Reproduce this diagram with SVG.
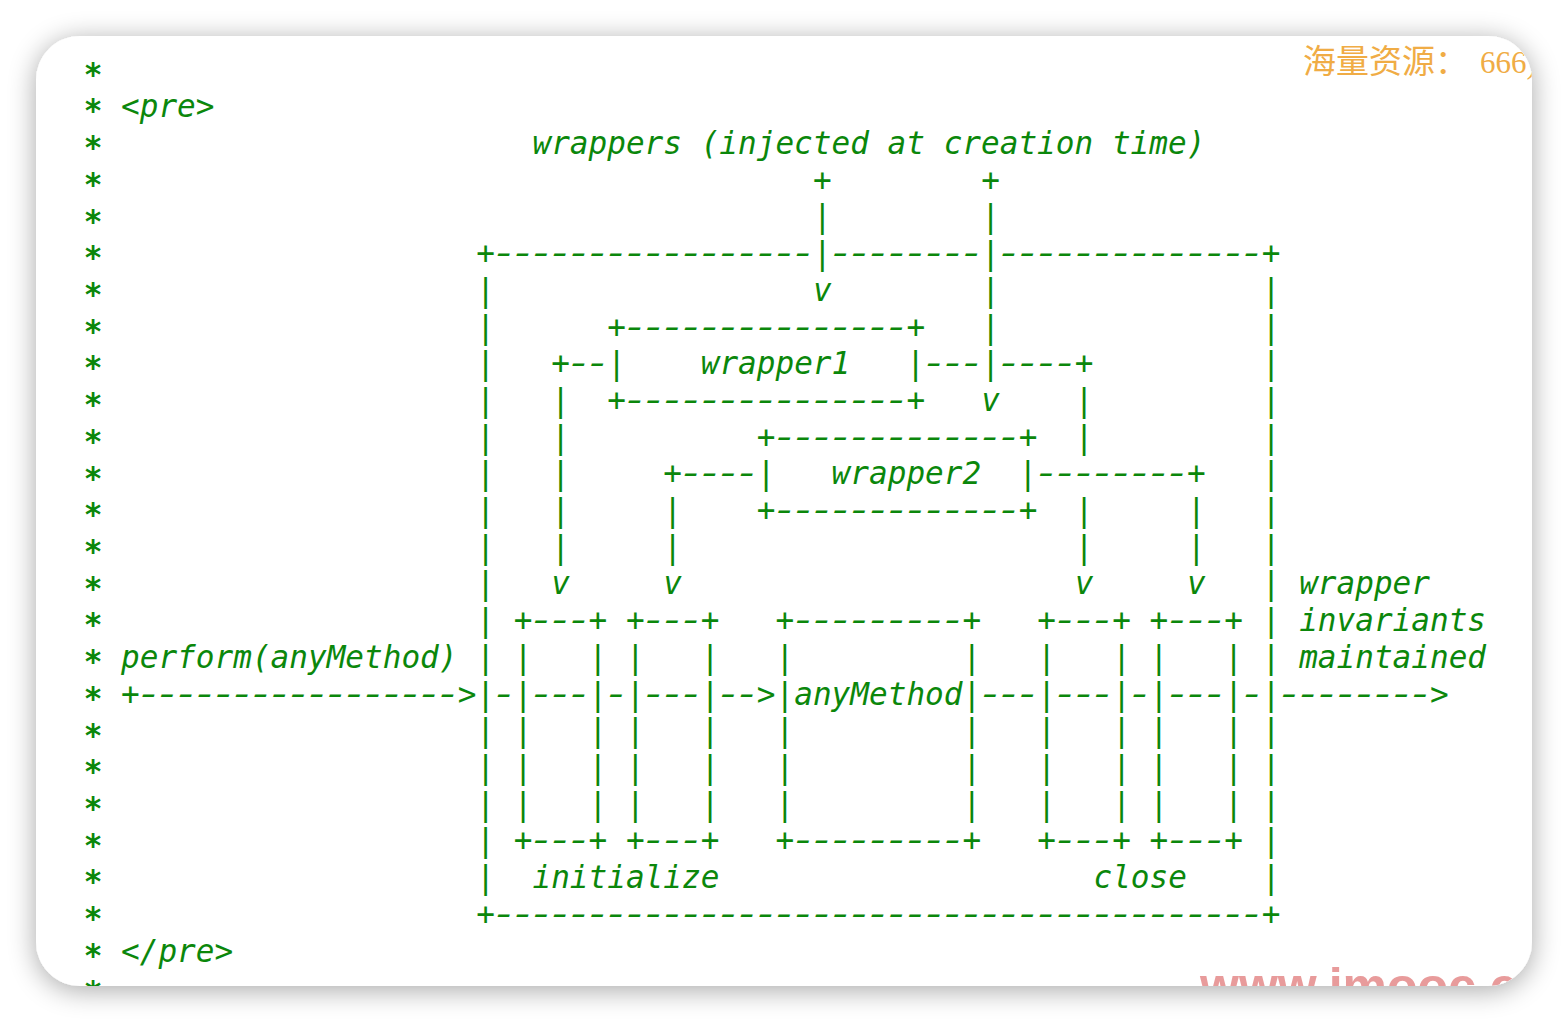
<svg xmlns="http://www.w3.org/2000/svg" width="1568" height="1022" viewBox="0 0 1568 1022" xml:space="preserve">
<defs>
<style>
.t{font-family:"DejaVu Sans Mono","Liberation Mono",monospace;font-size:31.06px;font-style:italic;fill:#0b870b;white-space:pre}
.d{letter-spacing:-5.7px}
.ast{font-style:normal;font-weight:bold;text-anchor:middle}
.wm1{font-family:"Liberation Serif","Noto Sans CJK SC",serif;font-size:33px;fill:#f0ac45}
.wm2{font-family:"Liberation Sans",Arial,sans-serif;font-weight:bold;font-size:50px;fill:#e48a8a;fill-opacity:0.85}
</style>
<filter id="sh" x="-10%" y="-10%" width="120%" height="120%">
<feGaussianBlur in="SourceAlpha" stdDeviation="14"/>
<feOffset dy="4"/>
<feComponentTransfer><feFuncA type="linear" slope="0.35"/></feComponentTransfer>
<feMerge><feMergeNode/><feMergeNode in="SourceGraphic"/></feMerge>
</filter>
<clipPath id="card"><rect x="36" y="36" width="1496" height="950" rx="44"/></clipPath>
</defs>
<rect width="1568" height="1022" fill="#ffffff"/>
<rect x="36" y="36" width="1496" height="950" rx="44" fill="#ffffff" filter="url(#sh)"/>
<g clip-path="url(#card)">
<g id="watermark">
<text class="wm1" x="1303" y="73">海量资源：<tspan x="1480" font-size="31">666)</tspan></text>
<text class="wm2" x="1200" y="1003">www.imooc.c</text>
</g>
<g id="gutter">
<text class="t ast"><tspan x="93" y="84.7">*</tspan><tspan x="93" y="121.4">*</tspan><tspan x="93" y="158.1">*</tspan><tspan x="93" y="194.8">*</tspan><tspan x="93" y="231.5">*</tspan><tspan x="93" y="268.3">*</tspan><tspan x="93" y="305.0">*</tspan><tspan x="93" y="341.7">*</tspan><tspan x="93" y="378.4">*</tspan><tspan x="93" y="415.1">*</tspan><tspan x="93" y="451.8">*</tspan><tspan x="93" y="488.5">*</tspan><tspan x="93" y="525.2">*</tspan><tspan x="93" y="561.9">*</tspan><tspan x="93" y="598.6">*</tspan><tspan x="93" y="635.4">*</tspan><tspan x="93" y="672.1">*</tspan><tspan x="93" y="708.8">*</tspan><tspan x="93" y="745.5">*</tspan><tspan x="93" y="782.2">*</tspan><tspan x="93" y="818.9">*</tspan><tspan x="93" y="855.6">*</tspan><tspan x="93" y="892.3">*</tspan><tspan x="93" y="929.0">*</tspan><tspan x="93" y="965.7">*</tspan><tspan x="93" y="1002.5">*</tspan></text>
<text class="t" x="121.05" y="117.2">&lt;pre&gt;</text>
<text class="t" x="121.05" y="961.5">&lt;/pre&gt;</text>
</g>
<g id="title">
<text class="t" x="532.45" y="153.9">wrappers (injected at creation time)</text>
</g>
<g id="transaction">
<text class="t"><tspan x="476.35" y="264.1">+</tspan><tspan x="1261.75" y="264.1">+</tspan><tspan x="476.35" y="924.8">+</tspan><tspan x="1261.75" y="924.8">+</tspan></text>
<text class="t d" transform="translate(490.95,264.1) scale(1.4385,1)">-----------------</text>
<text class="t d" transform="translate(827.55,264.1) scale(1.4385,1)">--------</text>
<text class="t d" transform="translate(995.85,264.1) scale(1.4385,1)">--------------</text>
<text class="t"><tspan x="476.35" y="300.8">|</tspan><tspan x="476.35" y="337.5">|</tspan><tspan x="476.35" y="374.2">|</tspan><tspan x="476.35" y="410.9">|</tspan><tspan x="476.35" y="447.6">|</tspan><tspan x="476.35" y="484.3">|</tspan><tspan x="476.35" y="521.0">|</tspan><tspan x="476.35" y="557.7">|</tspan><tspan x="476.35" y="594.4">|</tspan><tspan x="476.35" y="631.2">|</tspan><tspan x="476.35" y="667.9">|</tspan><tspan x="476.35" y="704.6">|</tspan><tspan x="476.35" y="741.3">|</tspan><tspan x="476.35" y="778.0">|</tspan><tspan x="476.35" y="814.7">|</tspan><tspan x="476.35" y="851.4">|</tspan><tspan x="476.35" y="888.1">|</tspan></text>
<text class="t"><tspan x="1261.75" y="300.8">|</tspan><tspan x="1261.75" y="337.5">|</tspan><tspan x="1261.75" y="374.2">|</tspan><tspan x="1261.75" y="410.9">|</tspan><tspan x="1261.75" y="447.6">|</tspan><tspan x="1261.75" y="484.3">|</tspan><tspan x="1261.75" y="521.0">|</tspan><tspan x="1261.75" y="557.7">|</tspan><tspan x="1261.75" y="594.4">|</tspan><tspan x="1261.75" y="631.2">|</tspan><tspan x="1261.75" y="667.9">|</tspan><tspan x="1261.75" y="704.6">|</tspan><tspan x="1261.75" y="741.3">|</tspan><tspan x="1261.75" y="778.0">|</tspan><tspan x="1261.75" y="814.7">|</tspan><tspan x="1261.75" y="851.4">|</tspan><tspan x="1261.75" y="888.1">|</tspan></text>
<text class="t d" transform="translate(490.95,924.8) scale(1.4385,1)">-----------------------------------------</text>
</g>
<g id="wrapper1">
<text class="t"><tspan x="607.25" y="337.5">+</tspan><tspan x="906.45" y="337.5">+</tspan><tspan x="607.25" y="410.9">+</tspan><tspan x="906.45" y="410.9">+</tspan></text>
<text class="t d" transform="translate(621.85,337.5) scale(1.4385,1)">---------------</text>
<text class="t" x="607.25" y="374.2">|    wrapper1   |</text>
<text class="t d" transform="translate(621.85,410.9) scale(1.4385,1)">---------------</text>
</g>
<g id="wrapper2">
<text class="t"><tspan x="756.85" y="447.6">+</tspan><tspan x="1018.65" y="447.6">+</tspan><tspan x="756.85" y="521.0">+</tspan><tspan x="1018.65" y="521.0">+</tspan></text>
<text class="t d" transform="translate(771.45,447.6) scale(1.4385,1)">-------------</text>
<text class="t" x="756.85" y="484.3">|   wrapper2  |</text>
<text class="t d" transform="translate(771.45,521.0) scale(1.4385,1)">-------------</text>
</g>
<g id="init1">
<text class="t"><tspan x="513.75" y="631.2">+</tspan><tspan x="588.55" y="631.2">+</tspan><tspan x="513.75" y="851.4">+</tspan><tspan x="588.55" y="851.4">+</tspan></text>
<text class="t d" transform="translate(528.35,631.2) scale(1.4385,1)">---</text>
<text class="t d" transform="translate(528.35,851.4) scale(1.4385,1)">---</text>
<text class="t"><tspan x="513.75" y="667.9">|</tspan><tspan x="513.75" y="704.6">|</tspan><tspan x="513.75" y="741.3">|</tspan><tspan x="513.75" y="778.0">|</tspan><tspan x="513.75" y="814.7">|</tspan><tspan x="588.55" y="667.9">|</tspan><tspan x="588.55" y="704.6">|</tspan><tspan x="588.55" y="741.3">|</tspan><tspan x="588.55" y="778.0">|</tspan><tspan x="588.55" y="814.7">|</tspan></text>
</g>
<g id="init2">
<text class="t"><tspan x="625.95" y="631.2">+</tspan><tspan x="700.75" y="631.2">+</tspan><tspan x="625.95" y="851.4">+</tspan><tspan x="700.75" y="851.4">+</tspan></text>
<text class="t d" transform="translate(640.55,631.2) scale(1.4385,1)">---</text>
<text class="t d" transform="translate(640.55,851.4) scale(1.4385,1)">---</text>
<text class="t"><tspan x="625.95" y="667.9">|</tspan><tspan x="625.95" y="704.6">|</tspan><tspan x="625.95" y="741.3">|</tspan><tspan x="625.95" y="778.0">|</tspan><tspan x="625.95" y="814.7">|</tspan><tspan x="700.75" y="667.9">|</tspan><tspan x="700.75" y="704.6">|</tspan><tspan x="700.75" y="741.3">|</tspan><tspan x="700.75" y="778.0">|</tspan><tspan x="700.75" y="814.7">|</tspan></text>
</g>
<g id="anyMethod">
<text class="t"><tspan x="775.55" y="631.2">+</tspan><tspan x="962.55" y="631.2">+</tspan><tspan x="775.55" y="851.4">+</tspan><tspan x="962.55" y="851.4">+</tspan></text>
<text class="t d" transform="translate(790.15,631.2) scale(1.4385,1)">---------</text>
<text class="t d" transform="translate(790.15,851.4) scale(1.4385,1)">---------</text>
<text class="t"><tspan x="775.55" y="667.9">|</tspan><tspan x="775.55" y="741.3">|</tspan><tspan x="775.55" y="778.0">|</tspan><tspan x="775.55" y="814.7">|</tspan><tspan x="962.55" y="667.9">|</tspan><tspan x="962.55" y="741.3">|</tspan><tspan x="962.55" y="778.0">|</tspan><tspan x="962.55" y="814.7">|</tspan></text>
<text class="t" x="775.55" y="704.6">|anyMethod|</text>
</g>
<g id="close1">
<text class="t"><tspan x="1037.35" y="631.2">+</tspan><tspan x="1112.15" y="631.2">+</tspan><tspan x="1037.35" y="851.4">+</tspan><tspan x="1112.15" y="851.4">+</tspan></text>
<text class="t d" transform="translate(1051.95,631.2) scale(1.4385,1)">---</text>
<text class="t d" transform="translate(1051.95,851.4) scale(1.4385,1)">---</text>
<text class="t"><tspan x="1037.35" y="667.9">|</tspan><tspan x="1037.35" y="704.6">|</tspan><tspan x="1037.35" y="741.3">|</tspan><tspan x="1037.35" y="778.0">|</tspan><tspan x="1037.35" y="814.7">|</tspan><tspan x="1112.15" y="667.9">|</tspan><tspan x="1112.15" y="704.6">|</tspan><tspan x="1112.15" y="741.3">|</tspan><tspan x="1112.15" y="778.0">|</tspan><tspan x="1112.15" y="814.7">|</tspan></text>
</g>
<g id="close2">
<text class="t"><tspan x="1149.55" y="631.2">+</tspan><tspan x="1224.35" y="631.2">+</tspan><tspan x="1149.55" y="851.4">+</tspan><tspan x="1224.35" y="851.4">+</tspan></text>
<text class="t d" transform="translate(1164.15,631.2) scale(1.4385,1)">---</text>
<text class="t d" transform="translate(1164.15,851.4) scale(1.4385,1)">---</text>
<text class="t"><tspan x="1149.55" y="667.9">|</tspan><tspan x="1149.55" y="704.6">|</tspan><tspan x="1149.55" y="741.3">|</tspan><tspan x="1149.55" y="778.0">|</tspan><tspan x="1149.55" y="814.7">|</tspan><tspan x="1224.35" y="667.9">|</tspan><tspan x="1224.35" y="704.6">|</tspan><tspan x="1224.35" y="741.3">|</tspan><tspan x="1224.35" y="778.0">|</tspan><tspan x="1224.35" y="814.7">|</tspan></text>
</g>
<g id="labels">
<text class="t" x="121.05" y="667.9">perform(anyMethod)</text>
<text class="t" x="1299.15" y="594.4">wrapper</text>
<text class="t" x="1299.15" y="631.2">invariants</text>
<text class="t" x="1299.15" y="667.9">maintained</text>
<text class="t" x="532.45" y="888.1">initialize</text>
<text class="t" x="1093.45" y="888.1">close</text>
</g>
<g id="connectors">
<text class="t"><tspan x="812.95" y="190.6">+</tspan><tspan x="981.25" y="190.6">+</tspan></text>
<text class="t"><tspan x="812.95" y="227.3">|</tspan><tspan x="981.25" y="227.3">|</tspan><tspan x="812.95" y="264.1">|</tspan><tspan x="981.25" y="264.1">|</tspan><tspan x="812.95" y="300.8">v</tspan><tspan x="981.25" y="300.8">|</tspan><tspan x="981.25" y="337.5">|</tspan></text>
<text class="t"><tspan x="551.15" y="374.2">+</tspan><tspan x="981.25" y="374.2">|</tspan><tspan x="1074.75" y="374.2">+</tspan></text>
<text class="t d" transform="translate(565.75,374.2) scale(1.4385,1)">--</text>
<text class="t d" transform="translate(921.05,374.2) scale(1.4385,1)">---</text>
<text class="t d" transform="translate(995.85,374.2) scale(1.4385,1)">----</text>
<text class="t"><tspan x="551.15" y="410.9">|</tspan><tspan x="981.25" y="410.9">v</tspan><tspan x="1074.75" y="410.9">|</tspan></text>
<text class="t"><tspan x="551.15" y="447.6">|</tspan><tspan x="1074.75" y="447.6">|</tspan></text>
<text class="t"><tspan x="551.15" y="484.3">|</tspan><tspan x="663.35" y="484.3">+</tspan><tspan x="1186.95" y="484.3">+</tspan></text>
<text class="t d" transform="translate(677.95,484.3) scale(1.4385,1)">----</text>
<text class="t d" transform="translate(1033.25,484.3) scale(1.4385,1)">--------</text>
<text class="t"><tspan x="551.15" y="521.0">|</tspan><tspan x="663.35" y="521.0">|</tspan><tspan x="1074.75" y="521.0">|</tspan><tspan x="1186.95" y="521.0">|</tspan></text>
<text class="t"><tspan x="551.15" y="557.7">|</tspan><tspan x="663.35" y="557.7">|</tspan><tspan x="1074.75" y="557.7">|</tspan><tspan x="1186.95" y="557.7">|</tspan></text>
<text class="t"><tspan x="551.15" y="594.4">v</tspan><tspan x="663.35" y="594.4">v</tspan><tspan x="1074.75" y="594.4">v</tspan><tspan x="1186.95" y="594.4">v</tspan></text>
<text class="t"><tspan x="121.05" y="704.6">+</tspan><tspan x="457.65" y="704.6">&gt;</tspan><tspan x="756.85" y="704.6">&gt;</tspan><tspan x="1430.05" y="704.6">&gt;</tspan></text>
<text class="t d" transform="translate(135.65,704.6) scale(1.4385,1)">-----------------</text>
<text class="t d" transform="translate(490.95,704.6) scale(1.4385,1)">-</text>
<text class="t d" transform="translate(528.35,704.6) scale(1.4385,1)">---</text>
<text class="t d" transform="translate(603.15,704.6) scale(1.4385,1)">-</text>
<text class="t d" transform="translate(640.55,704.6) scale(1.4385,1)">---</text>
<text class="t d" transform="translate(715.35,704.6) scale(1.4385,1)">--</text>
<text class="t d" transform="translate(977.15,704.6) scale(1.4385,1)">---</text>
<text class="t d" transform="translate(1051.95,704.6) scale(1.4385,1)">---</text>
<text class="t d" transform="translate(1126.75,704.6) scale(1.4385,1)">-</text>
<text class="t d" transform="translate(1164.15,704.6) scale(1.4385,1)">---</text>
<text class="t d" transform="translate(1238.95,704.6) scale(1.4385,1)">-</text>
<text class="t d" transform="translate(1276.35,704.6) scale(1.4385,1)">--------</text>
</g>
</g>
</svg>
